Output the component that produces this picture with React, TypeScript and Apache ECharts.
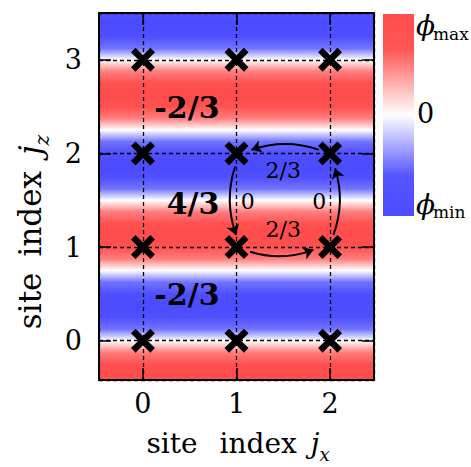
import React, { useEffect, useRef } from 'react';
import * as echarts from 'echarts';

// ---- data ----
const xRange = [-0.47, 2.47];
const yRange = [-0.42, 3.5];
const sitesX = [0, 1, 2];
const sitesZ = [0, 1, 2, 3];

// normalized potential phi (phi_min = -1 ... phi_max = 1) read along j_z
const profileZ = [-0.5, -0.375, -0.25, -0.125, 0, 0.125, 0.25, 0.375, 0.5, 0.625, 0.75, 0.875, 1, 1.125, 1.25, 1.375, 1.5, 1.625, 1.75, 1.875, 2, 2.125, 2.25, 2.375, 2.5, 2.625, 2.75, 2.875, 3, 3.125, 3.25, 3.375, 3.5];
const profilePhi = [0.87, 1, 0.87, 0.5, 0, -0.5, -0.87, -1, -0.87, -0.5, 0, 0.5, 0.87, 1, 0.87, 0.5, 0, -0.5, -0.87, -1, -0.87, -0.5, 0, 0.5, 0.87, 1, 0.87, 0.5, 0, -0.5, -0.87, -1, -0.87];

// colormap
const cmapValue = [-1, -0.6, 0, 0.65, 1];
const cmapColor = ['#4c4cff', '#5656ff', '#ffffff', '#ff5656', '#ff4c4c'];

// hopping arrows
const hopFrom = [[1.88, 2.04], [0.985, 1.86], [1.145, 0.95], [2.036, 1.13]];
const hopTo = [[1.16, 2.04], [0.995, 1.13], [1.822, 0.97], [2.054, 1.84]];

// hopping phases
const phaseText = ['2/3', '2/3', '0', '0'];
const phasePos = [[1.5, 1.82], [1.5, 1.185], [1.12, 1.49], [1.885, 1.49]];

// plaquette fluxes
const fluxText = ['-2/3', '4/3', '-2/3'];
const fluxPos = [[0.47, 2.49], [0.535, 1.47], [0.47, 0.49]];

const xTitle = ['site', 'index', 'j', 'x'];
const yTitle = ['site', 'index', 'j', 'z'];
const cbarText = ['\u03d5', 'max', '0', 'min'];

const F = 'DejaVu Serif';

function hexToRgb(h: string) {
  return [parseInt(h.slice(1, 3), 16), parseInt(h.slice(3, 5), 16), parseInt(h.slice(5, 7), 16)];
}
function phiColor(v: number) {
  if (v <= cmapValue[0]) return cmapColor[0];
  for (let i = 1; i < cmapValue.length; i++) {
    if (v <= cmapValue[i]) {
      const t = (v - cmapValue[i - 1]) / (cmapValue[i] - cmapValue[i - 1]);
      const a = hexToRgb(cmapColor[i - 1]);
      const b = hexToRgb(cmapColor[i]);
      const c = a.map((x, k) => Math.round(x + (b[k] - x) * t));
      return `rgb(${c[0]},${c[1]},${c[2]})`;
    }
  }
  return cmapColor[cmapColor.length - 1];
}

const crossPath = 'path://M0,19 L19,0 L50,31 L81,0 L100,19 L69,50 L100,81 L81,100 L50,69 L19,100 L0,81 L31,50 Z';

function buildOption() {
  const segments = profileZ.slice(0, -1).map((z, i) => [xRange[0], z, xRange[1], profileZ[i + 1], profilePhi[i], profilePhi[i + 1]]);
  const crosses: number[][] = [];
  sitesZ.forEach((z) => sitesX.forEach((x) => crosses.push([x, z])));

  const axisCommon = {
    type: 'value' as const,
    axisLine: { show: true, onZero: false, lineStyle: { color: '#000', width: 2 } },
    axisTick: { show: true, inside: true, length: 12, lineStyle: { color: '#000', width: 1.5 } },
    z: 1,
  };
  const labelStyle = { color: '#000', fontFamily: F, fontSize: 27, showMinLabel: false, showMaxLabel: false };
  const splitStyle = { show: true, lineStyle: { color: '#000', width: 1.3, type: [4, 3] } };

  const cbGrad = {
    type: 'linear', x: 0, y: 0, x2: 0, y2: 1,
    colorStops: cmapValue.map((v, i) => ({ offset: (1 - v) / 2, color: cmapColor[i] })).reverse(),
  };

  const title = (parts: string[], x: number, y: number, rot: number, fs: number, gap1: number, gap2: number) => ({
    type: 'text', x, y, rotation: rot,
    style: {
      text: `{t|${parts[0]}}{g|${parts[1]}}{j|${parts[2]}}{s|${parts[3]}}`,
      align: 'center', verticalAlign: 'middle',
      rich: {
        t: { fontFamily: F, fontSize: fs, lineHeight: fs * 1.5, verticalAlign: 'middle', fill: '#000' },
        g: { fontFamily: F, fontSize: fs, lineHeight: fs * 1.5, verticalAlign: 'middle', fill: '#000', padding: [0, 0, 0, gap1] },
        j: { fontFamily: F, fontSize: fs, fontStyle: 'italic', lineHeight: fs * 1.5, verticalAlign: 'middle', fill: '#000', padding: [0, 0, 0, gap2] },
        s: { fontFamily: F, fontSize: Math.round(fs * 0.63), fontStyle: 'italic', verticalAlign: 'top', padding: [Math.round(fs * 0.82), 0, 0, 0], fill: '#000' },
      },
    },
  });

  const textSeries = (texts: string[], pos: number[][], fontSize: number, bold: boolean) => ({
    type: 'scatter',
    z: 6,
    silent: true,
    symbolSize: 1,
    itemStyle: { color: 'rgba(0,0,0,0)', opacity: 1 },
    label: {
      show: true, position: 'inside', formatter: '{b}', color: '#000', opacity: 1,
      textBorderWidth: 0, fontFamily: F, fontSize, fontWeight: bold ? 'bold' : 'normal',
    },
    data: texts.map((t, i) => ({ name: t, value: pos[i] })),
  });

  return {
    animation: false,
    grid: { left: 99, right: 97, top: 13, bottom: 87 },
    xAxis: [
      { ...axisCommon, position: 'bottom', min: xRange[0], max: xRange[1], splitNumber: 3, axisLabel: { ...labelStyle, margin: 10 }, splitLine: splitStyle },
      { ...axisCommon, position: 'top', min: xRange[0], max: xRange[1], splitNumber: 3, axisLabel: { show: false }, splitLine: { show: false } },
    ],
    yAxis: [
      { ...axisCommon, position: 'left', min: yRange[0], max: yRange[1], splitNumber: 4, axisLabel: { ...labelStyle, margin: 17 }, splitLine: splitStyle },
      { ...axisCommon, position: 'right', min: yRange[0], max: yRange[1], splitNumber: 4, axisLabel: { show: false }, splitLine: { show: false } },
    ],
    series: [
      {
        type: 'custom',
        z: 0,
        silent: true,
        data: segments,
        encode: { x: [0, 2], y: [1, 3] },
        renderItem: (params: any, api: any) => {
          const a = api.coord([api.value(0), api.value(1)]);
          const b = api.coord([api.value(2), api.value(3)]);
          const rect = { x: a[0], y: b[1] - 0.5, width: b[0] - a[0], height: a[1] - b[1] + 1 };
          const cs = params.coordSys;
          const clipped = echarts.graphic.clipRectByRect(rect, { x: cs.x, y: cs.y, width: cs.width, height: cs.height });
          if (!clipped) return null;
          return {
            type: 'rect',
            shape: clipped,
            style: {
              fill: {
                type: 'linear', global: true, x: 0, y: a[1], x2: 0, y2: b[1],
                colorStops: [
                  { offset: 0, color: phiColor(api.value(4)) },
                  { offset: 1, color: phiColor(api.value(5)) },
                ],
              },
            },
          };
        },
      },
      {
        type: 'lines',
        coordinateSystem: 'cartesian2d',
        z: 4,
        silent: true,
        symbol: ['none', 'arrow'],
        symbolSize: 10,
        lineStyle: { color: '#000', width: 2, opacity: 1, curveness: -0.17 },
        data: hopFrom.map((f, i) => ({ coords: [f, hopTo[i]] })),
      },
      {
        type: 'scatter',
        z: 5,
        silent: true,
        symbol: crossPath,
        symbolSize: 24,
        itemStyle: { color: '#000', opacity: 1 },
        data: crosses,
      },
      textSeries(phaseText, phasePos, 22, false),
      textSeries(fluxText, fluxPos, 30, true),
    ],
    graphic: [
      { type: 'rect', shape: { x: 383, y: 14, width: 31, height: 202 }, style: { fill: cbGrad } },
      { type: 'text', x: 416, y: 25, style: { text: cbarText[0], font: `italic 28px "${F}"`, fill: '#000', verticalAlign: 'middle' } },
      { type: 'text', x: 433, y: 34, style: { text: cbarText[1], font: `17px "${F}"`, fill: '#000', verticalAlign: 'middle' } },
      { type: 'text', x: 417, y: 113, style: { text: cbarText[2], font: `27px "${F}"`, fill: '#000', verticalAlign: 'middle' } },
      { type: 'text', x: 416, y: 204, style: { text: cbarText[0], font: `italic 28px "${F}"`, fill: '#000', verticalAlign: 'middle' } },
      { type: 'text', x: 433, y: 212, style: { text: cbarText[3], font: `17px "${F}"`, fill: '#000', verticalAlign: 'middle' } },
      title(xTitle, 238, 443, 0, 28, 22, 14),
      title(yTitle, 30, 232, Math.PI / 2, 31, 16, 16),
    ],
  };
}

export default function App() {
  const ref = useRef<HTMLDivElement>(null);
  useEffect(() => {
    if (!ref.current) return;
    const chart = echarts.init(ref.current, null, { renderer: 'svg' });
    chart.setOption(buildOption() as any);
    return () => chart.dispose();
  }, []);
  return <div ref={ref} style={{ position: 'fixed', left: 0, top: 0, width: 471, height: 467, background: '#fff' }} />;
}
